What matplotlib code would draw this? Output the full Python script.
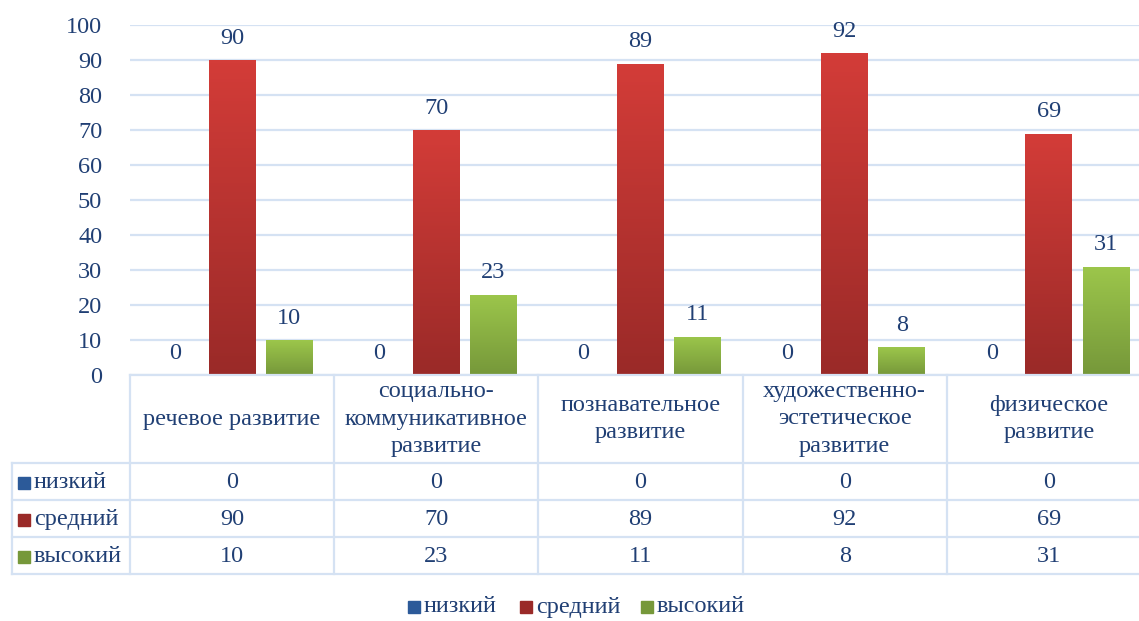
import numpy as np
import matplotlib
matplotlib.use('Agg')
import matplotlib.pyplot as plt
from matplotlib.lines import Line2D
from matplotlib.patches import Rectangle
from matplotlib.colors import LinearSegmentedColormap
from matplotlib.transforms import blended_transform_factory

categories = ['речевое развитие', 'социально-\nкоммуникативное\nразвитие',
              'познавательное\nразвитие', 'художественно-\nэстетическое\nразвитие',
              'физическое\nразвитие']
series_names = ['низкий', 'средний', 'высокий']
low = [0, 0, 0, 0, 0]
mid = [90, 70, 89, 92, 69]
high = [10, 23, 11, 8, 31]

TEXT = '#203f74'
GRID = '#d5e2f3'
FONT = 'Liberation Serif'
FS = 17.5

# (top, bottom) gradient colours for each series
grads = [('#4a80c8', '#2c5a99'), ('#d33c38', '#9a2a28'), ('#9cc64b', '#76983a')]

W, H = 1139, 621
fig = plt.figure(figsize=(W / 100, H / 100), dpi=100)
plt.rcParams['font.family'] = [FONT, 'DejaVu Sans']


def fx(px):
    return px / W


def fy(py):
    return 1 - py / H


left, right, top, bottom = 130, 1151, 25, 375
ax = fig.add_axes([fx(left), fy(bottom), fx(right - left), (bottom - top) / H])
ax.set_yticks(range(0, 101, 10))
ax.set_xticks([])
ax.tick_params(axis='y', length=0, pad=20, labelsize=FS, labelcolor=TEXT)
ax.grid(axis='y', color=GRID, lw=1.6)
ax.set_axisbelow(True)
for s in ax.spines.values():
    s.set_visible(False)

x = np.arange(len(categories))
width = 0.23
step = 0.28
for i, vals in enumerate([low, mid, high]):
    xs = x + (i - 1) * step
    cmap = LinearSegmentedColormap.from_list('g%d' % i, [grads[i][1], grads[i][0]])
    bars = ax.bar(xs, vals, width, color=grads[i][0], zorder=2)
    for b, v in zip(bars, vals):
        if v > 0:
            b.set_facecolor('none')
            grad = np.linspace(0, 1, 100).reshape(-1, 1)
            im = ax.imshow(grad, extent=[b.get_x(), b.get_x() + b.get_width(), 0, v],
                           origin='lower', aspect='auto', cmap=cmap, zorder=2)
            im.set_clip_path(b)
        ax.annotate(str(v), (b.get_x() + b.get_width() / 2, v), xytext=(0, 8),
                    textcoords='offset points', ha='center', va='bottom',
                    fontsize=FS, color=TEXT)
ax.set_xlim(-0.5, len(categories) - 0.5)
ax.set_ylim(0, 100)

# data table under the chart
tr = blended_transform_factory(ax.transData, fig.transFigure)
lw = 1.6
rows_y = [463, 500, 537, 574]
fig.add_artist(Line2D([fx(left), fx(right)], [fy(bottom), fy(bottom)], color=GRID, lw=lw))
for yy in rows_y:
    fig.add_artist(Line2D([fx(12), fx(right)], [fy(yy), fy(yy)], color=GRID, lw=lw))
fig.add_artist(Line2D([fx(12), fx(12)], [fy(463), fy(574)], color=GRID, lw=lw))
for k in range(len(categories) + 1):
    fig.add_artist(Line2D([k - 0.5, k - 0.5], [fy(bottom), fy(574)], color=GRID, lw=lw,
                          transform=tr))

for k, cat in enumerate(categories):
    fig.text(k, fy(419), cat, transform=tr, ha='center', va='center', fontsize=FS,
             color=TEXT, linespacing=1.38)

for r, (name, vals) in enumerate(zip(series_names, [low, mid, high])):
    yc = (rows_y[r] + rows_y[r + 1]) / 2 + 1
    fig.add_artist(Rectangle((fx(18), fy(yc + 6)), fx(12), 12 / H, color=grads[r][1]))
    fig.text(fx(34), fy(yc), name, ha='left', va='center', fontsize=FS, color=TEXT)
    for k, v in enumerate(vals):
        fig.text(k, fy(yc), str(v), transform=tr, ha='center', va='center',
                 fontsize=FS, color=TEXT)

# legend
leg_x = [408, 520, 641]
for i, name in enumerate(series_names):
    fig.add_artist(Rectangle((fx(leg_x[i]), fy(613)), fx(12), 12 / H, color=grads[i][1]))
    fig.text(fx(leg_x[i] + 16), fy(607), name, ha='left', va='center', fontsize=FS,
             color=TEXT)

fig.savefig('out.png', dpi=100)
